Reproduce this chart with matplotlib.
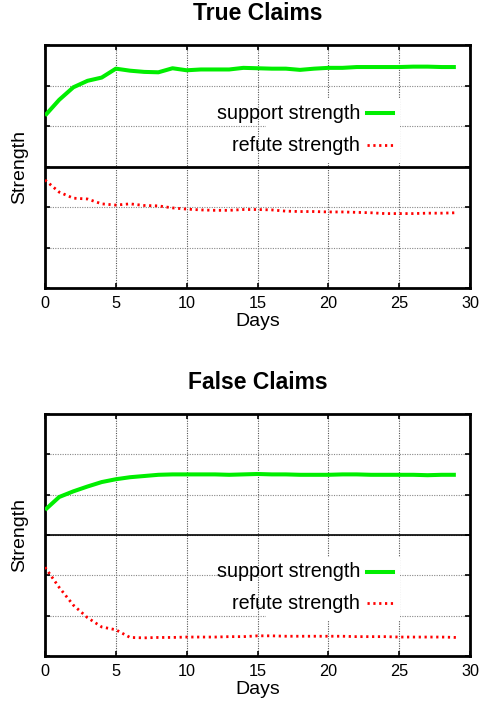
import matplotlib
matplotlib.use('Agg')
import matplotlib.pyplot as plt
from matplotlib.patches import Rectangle
from matplotlib.lines import Line2D

plt.rcParams['font.family'] = ['Liberation Sans', 'DejaVu Sans']

# --- Data (arbitrary strength units) ---
days = list(range(30))

true_support = [1.26, 1.65, 1.96, 2.12, 2.20, 2.42, 2.37, 2.34, 2.33, 2.43,
                2.38, 2.40, 2.40, 2.40, 2.44, 2.43, 2.42, 2.42, 2.39, 2.42,
                2.44, 2.44, 2.46, 2.46, 2.46, 2.46, 2.47, 2.47, 2.46, 2.46]
true_refute = [-0.33, -0.63, -0.78, -0.80, -0.92, -0.95, -0.92, -0.96, -0.97, -1.02,
               -1.05, -1.07, -1.08, -1.08, -1.06, -1.06, -1.07, -1.10, -1.11, -1.11,
               -1.12, -1.12, -1.13, -1.14, -1.16, -1.16, -1.16, -1.15, -1.15, -1.14]

false_support = [0.62, 0.94, 1.08, 1.20, 1.31, 1.38, 1.43, 1.46, 1.49, 1.50,
                 1.50, 1.50, 1.50, 1.49, 1.50, 1.51, 1.50, 1.50, 1.49, 1.49,
                 1.49, 1.50, 1.50, 1.49, 1.49, 1.49, 1.49, 1.48, 1.49, 1.49]
false_refute = [-0.80, -1.30, -1.74, -2.05, -2.28, -2.35, -2.54, -2.55, -2.54, -2.54,
                -2.53, -2.53, -2.53, -2.52, -2.52, -2.50, -2.50, -2.51, -2.51, -2.51,
                -2.51, -2.51, -2.52, -2.52, -2.52, -2.53, -2.53, -2.53, -2.53, -2.54]

x_ticks = [0, 5, 10, 15, 20, 25, 30]
y_ticks = [-3, -2, -1, 0, 1, 2, 3]

titles = ['True Claims', 'False Claims']
labels = ['support strength', 'refute strength']

GREEN = '#00ee00'
RED = '#ff0000'
DOTS = (0, (0.8, 1.3))

fig = plt.figure(figsize=(4.81, 7.06), dpi=100)
ax_top = fig.add_axes([0.0936, 0.592, 0.8836, 0.344])
ax_bot = fig.add_axes([0.0936, 0.0708, 0.8836, 0.343])

panels = [
    (ax_top, true_support, true_refute, 2.0, (0.520, 0.514, 0.315, 0.268), (0.719, 0.588)),
    (ax_bot, false_support, false_refute, 1.2, (0.520, 0.149, 0.315, 0.260), (0.348, 0.217)),
]

for i, (ax, sup, ref, zero_lw, box, leg_y) in enumerate(panels):
    ax.set_xlim(0, 30)
    ax.set_ylim(-3, 3)
    ax.set_xticks(x_ticks)
    ax.set_yticks(y_ticks)
    ax.set_yticklabels([])
    ax.tick_params(direction='in', length=3.5, width=1.2, top=True, right=True,
                   labelsize=11.7, pad=6)
    for sp in ax.spines.values():
        sp.set_linewidth(2.0)

    # --- dotted grid ---
    ax.set_axisbelow(True)
    ax.grid(True, axis='x', color='#555555', linestyle=(0, (1, 1.2)), linewidth=0.8)
    ax.grid(True, axis='y', color='#888888', linestyle=(0, (1, 1.2)), linewidth=0.8)

    # white key background hides the grid
    ax.add_patch(Rectangle((box[0], box[1]), box[2], box[3], transform=ax.transAxes,
                           facecolor='white', edgecolor='none', zorder=1))

    ax.axhline(0, color='black', linewidth=zero_lw, zorder=2)

    ax.plot(days, sup, color=GREEN, linewidth=2.9, zorder=3, solid_capstyle='butt')
    ax.plot(days, ref, color=RED, linewidth=2.0, linestyle=DOTS, zorder=3)

    # --- gnuplot style key: text right-aligned, sample on the right ---
    for lab, y, col, ls, lw in [(labels[0], leg_y[0], GREEN, '-', 2.9),
                                (labels[1], leg_y[1], RED, DOTS, 2.0)]:
        ax.text(0.741, y, lab, transform=ax.transAxes, ha='right', va='center',
                fontsize=14.2, zorder=4)
        ax.add_line(Line2D([0.758, 0.819], [y, y], transform=ax.transAxes,
                           color=col, linestyle=ls, linewidth=lw, zorder=4))

    ax.set_title(titles[i], fontsize=16.5, fontweight='bold', pad=18)
    ax.set_xlabel('Days', fontsize=14, labelpad=1)
    ax.set_ylabel('Strength', fontsize=14, labelpad=6)

fig.savefig('out.png', dpi=100)
